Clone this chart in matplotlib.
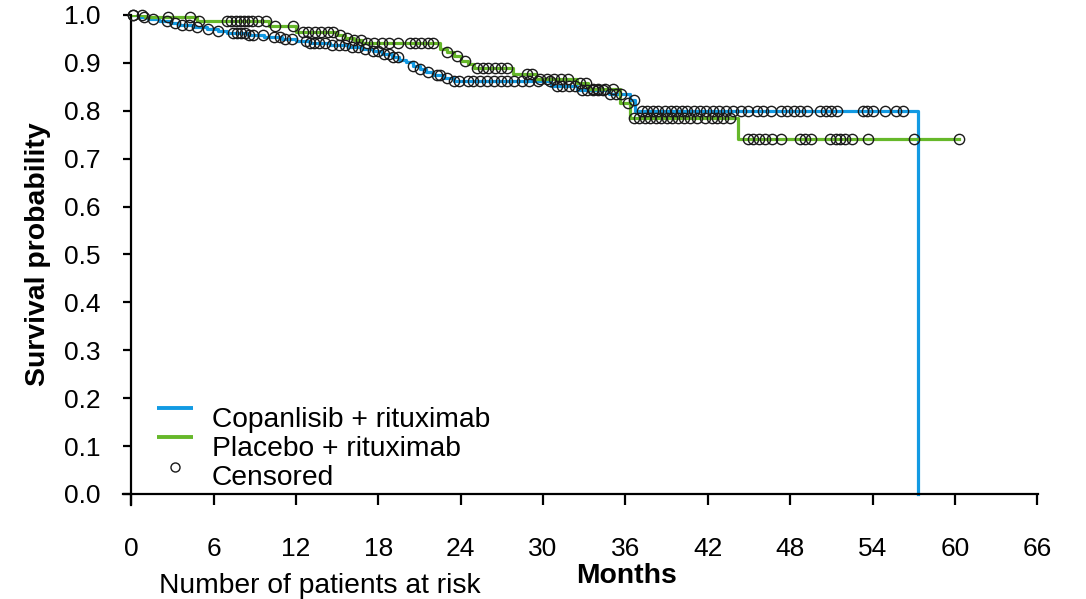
import numpy as np
import matplotlib
matplotlib.use("Agg")
import matplotlib.pyplot as plt
from matplotlib.lines import Line2D

plt.rcParams['font.family'] = ['Liberation Sans', 'DejaVu Sans']

# Kaplan-Meier steps (month, survival after the event)
copan_t = [0, 0.5, 1.2, 2.0, 2.8, 3.5, 4.5, 5.5, 6.3, 7.0, 8.5, 9.7, 11.0, 12.0, 13.0,
           14.5, 15.8, 16.8, 17.6, 18.3, 19.0, 19.5, 20.0, 20.5, 21.0, 21.5, 22.0,
           22.8, 23.5, 30.6, 32.5, 34.8, 36.3, 36.7]
copan_s = [1.0, 0.996, 0.992, 0.988, 0.984, 0.979, 0.975, 0.970, 0.966, 0.962, 0.958,
           0.954, 0.950, 0.946, 0.942, 0.937, 0.933, 0.928, 0.924, 0.919, 0.913, 0.907,
           0.901, 0.894, 0.887, 0.880, 0.874, 0.868, 0.862, 0.852, 0.843, 0.835,
           0.822, 0.800]
copan_last_event = 57.3

placebo_t = [0, 1.0, 4.8, 10.0, 12.0, 15.0, 15.6, 16.2, 16.8, 22.5, 23.0, 23.5, 24.0,
             24.5, 25.0, 27.8, 29.5, 32.5, 33.3, 35.6, 36.3, 44.2]
placebo_s = [1.0, 0.996, 0.987, 0.978, 0.964, 0.958, 0.952, 0.947, 0.941, 0.930, 0.922,
             0.914, 0.905, 0.897, 0.889, 0.877, 0.867, 0.857, 0.846, 0.816, 0.786,
             0.741]
placebo_end = 60.3

# Censoring times (months)
copan_cens = [0.1, 0.9, 1.6, 2.6, 3.2, 3.7, 4.2, 4.8, 5.6, 6.3, 7.4, 7.7, 8.0, 8.3,
              8.6, 8.9, 9.6, 10.4, 10.8, 11.2, 11.7, 12.7, 13.0, 13.3, 13.7, 14.1, 14.6,
              15.1, 15.6, 16.1, 16.5, 17.0, 17.6, 18.0, 18.4, 18.8, 19.1, 19.4, 20.5,
              21.0, 21.6, 22.3, 22.5, 23.0, 23.5, 23.9, 24.5, 24.9, 25.4, 25.9, 26.4,
              26.9, 27.4, 27.9, 28.5, 29.0, 29.6, 30.5, 31.0, 31.4, 31.9, 32.3, 32.8,
              33.2, 33.6, 34.0, 34.4, 34.9, 35.3, 35.7, 36.6, 37.2, 37.6, 38.0, 38.4,
              38.9, 39.3, 39.7, 40.1, 40.5, 41.0, 41.4, 41.9, 42.4, 42.8, 43.3, 43.8,
              44.4, 44.9, 45.6, 46.0, 46.6, 47.3, 47.8, 48.3, 48.7, 49.2, 50.2, 50.6,
              51.0, 51.4, 53.3, 53.6, 54.0, 54.9, 55.7, 56.2]
placebo_cens = [0.1, 0.8, 2.7, 4.3, 4.9, 7.0, 7.3, 7.6, 7.9, 8.2, 8.5, 8.8, 9.2, 9.8,
                10.5, 11.8, 12.5, 12.9, 13.4, 13.8, 14.3, 14.7, 15.2, 15.7, 16.2, 16.7,
                17.2, 17.7, 18.3, 18.8, 19.4, 20.3, 20.7, 21.1, 21.6, 22.0, 23.0, 23.7,
                24.3, 25.2, 25.6, 26.0, 26.5, 26.9, 27.4, 28.8, 29.2, 29.8, 30.3, 30.8,
                31.3, 31.8, 32.7, 33.1, 33.6, 34.0, 34.5, 35.1, 36.2, 36.6, 37.0, 37.4,
                37.8, 38.2, 38.6, 39.0, 39.4, 39.8, 40.3, 40.7, 41.2, 41.8, 42.3, 42.7,
                43.1, 43.6, 44.9, 45.3, 45.7, 46.2, 46.7, 47.3, 48.7, 49.1, 49.5, 50.9,
                51.3, 51.6, 52.0, 52.5, 53.7, 57.0, 60.3]

x_ticks = list(range(0, 67, 6))
y_ticks = [round(0.1 * i, 1) for i in range(11)]
legend_labels = ['Copanlisib + rituximab', 'Placebo + rituximab', 'Censored']

BLUE = '#129ae3'
GREEN = '#66b82a'
EDGE = '#1a1a1a'
W, H = 1086, 599


def surv_at(times, surv, t):
    idx = np.searchsorted(times, t, side='right') - 1
    return np.asarray(surv)[idx]


def fx(px):
    return px / W


def fy(py):
    return 1 - py / H


fig = plt.figure(figsize=(W / 100, H / 100), dpi=100)
ax = fig.add_axes([fx(123), fy(505), (1038 - 123) / W, (505 - 15) / H])

# curves
ax.step(copan_t + [copan_last_event, copan_last_event],
        copan_s + [copan_s[-1], 0.0], where='post', color=BLUE, lw=2.3, zorder=2)
ax.step(placebo_t + [placebo_end], placebo_s + [placebo_s[-1]],
        where='post', color=GREEN, lw=2.3, zorder=2)

# censor marks
mk = dict(ls='none', marker='o', ms=7.4, mfc='none', mec=EDGE, mew=1.0,
          clip_on=False, zorder=3)
ax.plot(copan_cens, surv_at(copan_t, copan_s, copan_cens), **mk)
ax.plot(placebo_cens, surv_at(placebo_t, placebo_s, placebo_cens), **mk)

ax.set_xlim(-0.6, 66.05)
ax.set_ylim(-0.023, 1.0)
ax.spines['top'].set_visible(False)
ax.spines['right'].set_visible(False)
ax.spines['left'].set_position(('data', 0))
ax.spines['bottom'].set_position(('data', 0))
for s in ('left', 'bottom'):
    ax.spines[s].set_linewidth(1.6)

ax.set_xticks(x_ticks)
ax.set_yticks(y_ticks)
ax.set_yticklabels([f'{v:.1f}' for v in y_ticks])
ax.tick_params(axis='x', direction='out', length=8, width=1.6, pad=23, labelsize=19)
ax.tick_params(axis='y', direction='out', length=6, width=1.6, pad=16, labelsize=19)

fig.text(fx(38), fy(254), 'Survival probability', rotation=90,
         ha='center', va='center', fontsize=20.4, fontweight='bold')
fig.text(fx(627), fy(576), 'Months', ha='center', va='center',
         fontsize=20.4, fontweight='bold')
fig.text(fx(159), fy(586), 'Number of patients at risk', ha='left',
         va='center', fontsize=20.3)

# legend, drawn by hand so the keys sit a little above the text rows
key_rows = [408, 437, 467]
text_base = [427, 456, 485]
fig.add_artist(Line2D([fx(157), fx(193)], [fy(key_rows[0])] * 2, color=BLUE, lw=2.8,
                      solid_capstyle='butt'))
fig.add_artist(Line2D([fx(157), fx(193)], [fy(key_rows[1])] * 2, color=GREEN, lw=2.8,
                      solid_capstyle='butt'))
fig.add_artist(Line2D([fx(175)], [fy(key_rows[2])], ls='none', marker='o', ms=6.5,
                      mfc='none', mec=EDGE, mew=1.0))
for lab, yb in zip(legend_labels, text_base):
    fig.text(fx(212), fy(yb), lab, ha='left', va='baseline', fontsize=20.3)

fig.savefig('out.png', dpi=100)
